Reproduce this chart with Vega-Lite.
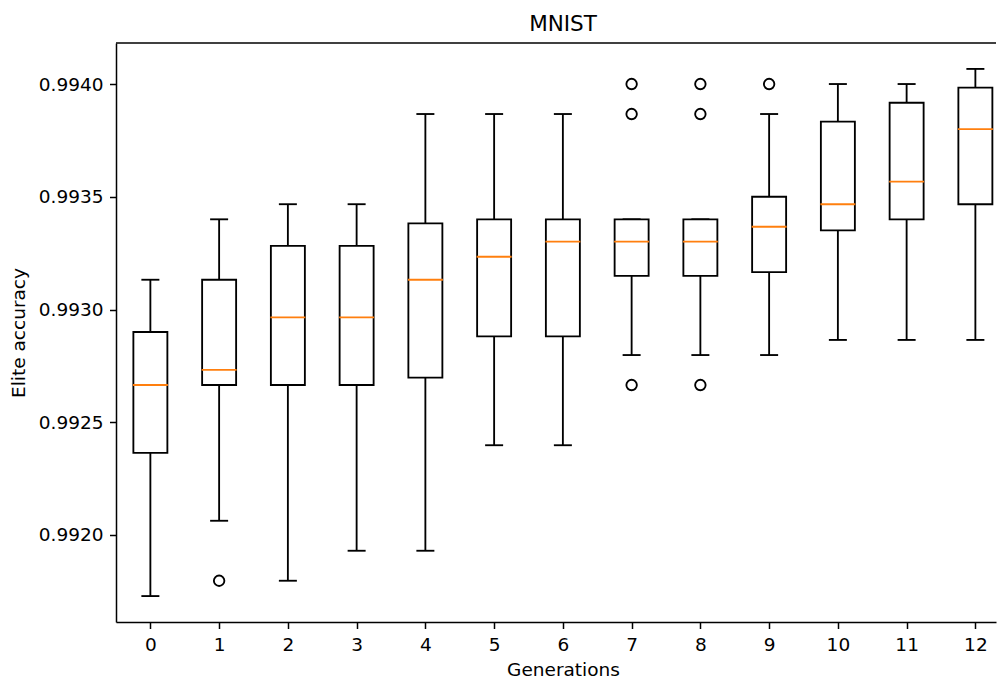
{
  "$schema": "https://vega.github.io/schema/vega-lite/v6.json",
  "width": 880,
  "height": 579,
  "autosize": {"type": "none"},
  "padding": {"left": 116, "top": 43, "right": 1, "bottom": 56},
  "background": "white",
  "title": {"text": "MNIST", "font": "DejaVu Sans", "fontSize": 21.5, "fontWeight": "normal", "color": "black", "anchor": "middle", "offset": 7, "dx": 7, "frame": "group"},
  "datasets": {
    "boxes": [
      {"gen": 0, "lo": 0.991729, "q1": 0.992364, "med": 0.992665, "q3": 0.9929, "hi": 0.993132},
      {"gen": 1, "lo": 0.992063, "q1": 0.992665, "med": 0.992732, "q3": 0.993132, "hi": 0.9934},
      {"gen": 2, "lo": 0.991797, "q1": 0.992665, "med": 0.992965, "q3": 0.993282, "hi": 0.993467},
      {"gen": 3, "lo": 0.99193, "q1": 0.992665, "med": 0.992965, "q3": 0.993282, "hi": 0.993467},
      {"gen": 4, "lo": 0.99193, "q1": 0.992698, "med": 0.993132, "q3": 0.993382, "hi": 0.993867},
      {"gen": 5, "lo": 0.992398, "q1": 0.992881, "med": 0.993234, "q3": 0.9934, "hi": 0.993867},
      {"gen": 6, "lo": 0.992398, "q1": 0.992881, "med": 0.993301, "q3": 0.9934, "hi": 0.993867},
      {"gen": 7, "lo": 0.992798, "q1": 0.993149, "med": 0.993301, "q3": 0.9934, "hi": 0.9934},
      {"gen": 8, "lo": 0.992798, "q1": 0.993149, "med": 0.993301, "q3": 0.9934, "hi": 0.9934},
      {"gen": 9, "lo": 0.992798, "q1": 0.993166, "med": 0.993367, "q3": 0.9935, "hi": 0.993867},
      {"gen": 10, "lo": 0.992865, "q1": 0.993351, "med": 0.993467, "q3": 0.993833, "hi": 0.994},
      {"gen": 11, "lo": 0.992865, "q1": 0.9934, "med": 0.993567, "q3": 0.993917, "hi": 0.994},
      {"gen": 12, "lo": 0.992865, "q1": 0.993467, "med": 0.9938, "q3": 0.993984, "hi": 0.994067}
    ],
    "outliers": [
      {"gen": 1, "acc": 0.991797},
      {"gen": 7, "acc": 0.994},
      {"gen": 7, "acc": 0.993867},
      {"gen": 7, "acc": 0.992665},
      {"gen": 8, "acc": 0.994},
      {"gen": 8, "acc": 0.993867},
      {"gen": 8, "acc": 0.992665},
      {"gen": 9, "acc": 0.994}
    ]
  },
  "layer": [
    {
      "data": {"name": "boxes"},
      "mark": {"type": "rule", "color": "black", "strokeWidth": 1.85},
      "encoding": {
        "x": {"field": "gen", "type": "quantitative", "title": "Generations", "scale": {"domain": [-0.5, 12.3], "nice": false, "zero": false, "padding": 0},
          "axis": {"values": [0,1,2,3,4,5,6,7,8,9,10,11,12], "format": "d", "labelPadding": 7, "titlePadding": 6, "titleX": 447, "labelFlush": false, "labelOverlap": false}},
        "y": {"field": "lo", "type": "quantitative", "title": "Elite accuracy", "scale": {"domain": [0.991614, 0.994182], "nice": false, "zero": false, "padding": 0},
          "axis": {"values": [0.992, 0.9925, 0.993, 0.9935, 0.994], "format": ".4f", "labelPadding": 6.5, "titlePadding": 10, "labelOverlap": false, "labelFlush": false}},
        "y2": {"field": "q1"}
      }
    },
    {
      "data": {"name": "boxes"},
      "mark": {"type": "rule", "color": "black", "strokeWidth": 1.85},
      "encoding": {
        "x": {"field": "gen", "type": "quantitative", "title": "Generations", "scale": {"domain": [-0.5, 12.3], "nice": false, "zero": false, "padding": 0},
          "axis": {"values": [0,1,2,3,4,5,6,7,8,9,10,11,12], "format": "d", "labelPadding": 7, "titlePadding": 6, "titleX": 447, "labelFlush": false, "labelOverlap": false}},
        "y": {"field": "q3", "type": "quantitative", "title": "Elite accuracy", "scale": {"domain": [0.991614, 0.994182], "nice": false, "zero": false, "padding": 0},
          "axis": {"values": [0.992, 0.9925, 0.993, 0.9935, 0.994], "format": ".4f", "labelPadding": 6.5, "titlePadding": 10, "labelOverlap": false, "labelFlush": false}},
        "y2": {"field": "hi"}
      }
    },
    {
      "data": {"name": "boxes"},
      "mark": {"type": "tick", "orient": "horizontal", "color": "black", "size": 18, "thickness": 1.85, "opacity": 1},
      "encoding": {
        "x": {"field": "gen", "type": "quantitative", "title": "Generations", "scale": {"domain": [-0.5, 12.3], "nice": false, "zero": false, "padding": 0},
          "axis": {"values": [0,1,2,3,4,5,6,7,8,9,10,11,12], "format": "d", "labelPadding": 7, "titlePadding": 6, "titleX": 447, "labelFlush": false, "labelOverlap": false}},
        "y": {"field": "lo", "type": "quantitative", "title": "Elite accuracy", "scale": {"domain": [0.991614, 0.994182], "nice": false, "zero": false, "padding": 0},
          "axis": {"values": [0.992, 0.9925, 0.993, 0.9935, 0.994], "format": ".4f", "labelPadding": 6.5, "titlePadding": 10, "labelOverlap": false, "labelFlush": false}}
      }
    },
    {
      "data": {"name": "boxes"},
      "mark": {"type": "tick", "orient": "horizontal", "color": "black", "size": 18, "thickness": 1.85, "opacity": 1},
      "encoding": {
        "x": {"field": "gen", "type": "quantitative", "title": "Generations", "scale": {"domain": [-0.5, 12.3], "nice": false, "zero": false, "padding": 0},
          "axis": {"values": [0,1,2,3,4,5,6,7,8,9,10,11,12], "format": "d", "labelPadding": 7, "titlePadding": 6, "titleX": 447, "labelFlush": false, "labelOverlap": false}},
        "y": {"field": "hi", "type": "quantitative", "title": "Elite accuracy", "scale": {"domain": [0.991614, 0.994182], "nice": false, "zero": false, "padding": 0},
          "axis": {"values": [0.992, 0.9925, 0.993, 0.9935, 0.994], "format": ".4f", "labelPadding": 6.5, "titlePadding": 10, "labelOverlap": false, "labelFlush": false}}
      }
    },
    {
      "data": {"name": "boxes"},
      "mark": {"type": "bar", "orient": "vertical", "size": 34, "fill": "white", "stroke": "black", "strokeWidth": 1.85},
      "encoding": {
        "x": {"field": "gen", "type": "quantitative", "title": "Generations", "scale": {"domain": [-0.5, 12.3], "nice": false, "zero": false, "padding": 0},
          "axis": {"values": [0,1,2,3,4,5,6,7,8,9,10,11,12], "format": "d", "labelPadding": 7, "titlePadding": 6, "titleX": 447, "labelFlush": false, "labelOverlap": false}},
        "y": {"field": "q1", "type": "quantitative", "title": "Elite accuracy", "scale": {"domain": [0.991614, 0.994182], "nice": false, "zero": false, "padding": 0},
          "axis": {"values": [0.992, 0.9925, 0.993, 0.9935, 0.994], "format": ".4f", "labelPadding": 6.5, "titlePadding": 10, "labelOverlap": false, "labelFlush": false}},
        "y2": {"field": "q3"}
      }
    },
    {
      "data": {"name": "boxes"},
      "mark": {"type": "tick", "orient": "horizontal", "color": "#ff7f0e", "size": 35, "thickness": 1.85, "opacity": 1},
      "encoding": {
        "x": {"field": "gen", "type": "quantitative", "title": "Generations", "scale": {"domain": [-0.5, 12.3], "nice": false, "zero": false, "padding": 0},
          "axis": {"values": [0,1,2,3,4,5,6,7,8,9,10,11,12], "format": "d", "labelPadding": 7, "titlePadding": 6, "titleX": 447, "labelFlush": false, "labelOverlap": false}},
        "y": {"field": "med", "type": "quantitative", "title": "Elite accuracy", "scale": {"domain": [0.991614, 0.994182], "nice": false, "zero": false, "padding": 0},
          "axis": {"values": [0.992, 0.9925, 0.993, 0.9935, 0.994], "format": ".4f", "labelPadding": 6.5, "titlePadding": 10, "labelOverlap": false, "labelFlush": false}}
      }
    },
    {
      "data": {"name": "outliers"},
      "mark": {"type": "point", "shape": "circle", "filled": false, "stroke": "black", "strokeWidth": 1.85, "size": 110, "opacity": 1},
      "encoding": {
        "x": {"field": "gen", "type": "quantitative", "title": "Generations", "scale": {"domain": [-0.5, 12.3], "nice": false, "zero": false, "padding": 0},
          "axis": {"values": [0,1,2,3,4,5,6,7,8,9,10,11,12], "format": "d", "labelPadding": 7, "titlePadding": 6, "titleX": 447, "labelFlush": false, "labelOverlap": false}},
        "y": {"field": "acc", "type": "quantitative", "title": "Elite accuracy", "scale": {"domain": [0.991614, 0.994182], "nice": false, "zero": false, "padding": 0},
          "axis": {"values": [0.992, 0.9925, 0.993, 0.9935, 0.994], "format": ".4f", "labelPadding": 6.5, "titlePadding": 10, "labelOverlap": false, "labelFlush": false}}
      }
    },
    {
      "data": {"values": [{}]},
      "mark": {"type": "rule", "color": "black", "strokeWidth": 1.5},
      "encoding": {
        "y": {"datum": 0.994182, "type": "quantitative", "title": "Elite accuracy", "scale": {"domain": [0.991614, 0.994182], "nice": false, "zero": false, "padding": 0},
          "axis": {"values": [0.992, 0.9925, 0.993, 0.9935, 0.994], "format": ".4f", "labelPadding": 6.5, "titlePadding": 10, "labelOverlap": false, "labelFlush": false}}
      }
    }
  ],
  "config": {
    "font": "DejaVu Sans",
    "view": {"stroke": null},
    "axis": {
      "labelFont": "DejaVu Sans", "labelFontSize": 18.5, "labelColor": "black",
      "titleFont": "DejaVu Sans", "titleFontSize": 18.5, "titleFontWeight": "normal", "titleColor": "black",
      "domainColor": "black", "domainWidth": 1.5, "tickColor": "black", "tickWidth": 1.5, "tickSize": 6.5, "grid": false
    }
  }
}
